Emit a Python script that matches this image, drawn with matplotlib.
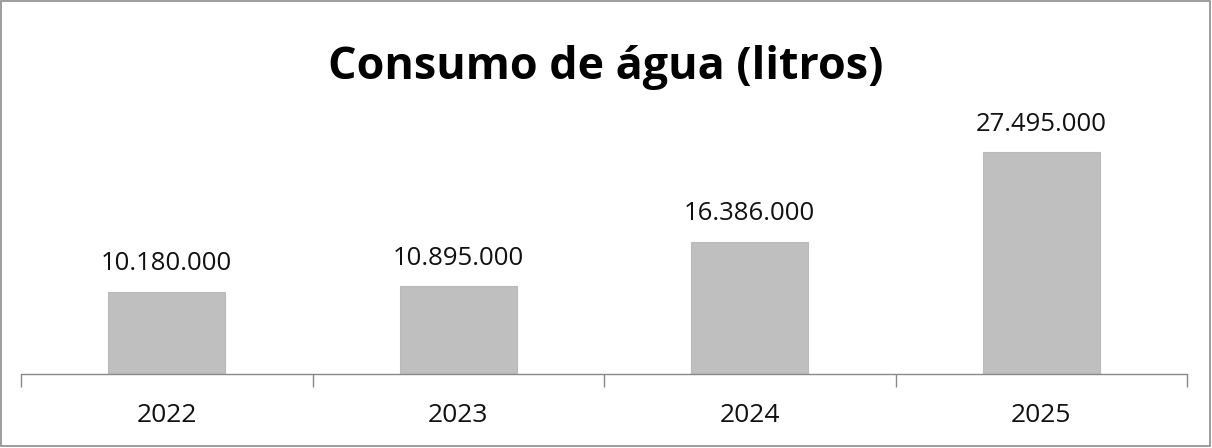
import matplotlib.pyplot as plt

# dados
anos = ['2022', '2023', '2024', '2025']
consumo = [10180000, 10895000, 16386000, 27495000]
rotulos = ['10.180.000', '10.895.000', '16.386.000', '27.495.000']

plt.rcParams['font.family'] = ['Open Sans', 'DejaVu Sans']

fig = plt.figure(figsize=(12.12, 4.48), dpi=100)
ax = fig.add_axes([21 / 1212, (448 - 373.5) / 448, 1166 / 1212, 241.5 / 448])

x = range(len(anos))
ax.bar(x, consumo, width=0.4, color='#bfbfbf', edgecolor='#bababa', linewidth=0.8)

for xi, v, lab in zip(x, consumo, rotulos):
    ax.text(xi, v + 1900000, lab, ha='center', va='bottom', fontsize=18.5, color='#111111')

ax.set_xlim(-0.5, len(anos) - 0.5)
ax.set_ylim(0, 30000000)

for s in ['top', 'right', 'left']:
    ax.spines[s].set_visible(False)
ax.spines['bottom'].set_color('#888888')
ax.spines['bottom'].set_linewidth(1.0)

ax.set_yticks([])
ax.set_xticks([i - 0.5 for i in range(len(anos) + 1)])
ax.set_xticklabels([])
ax.set_xticks(list(x), minor=True)
ax.set_xticklabels(anos, minor=True, fontsize=19, color='#111111')
ax.tick_params(axis='x', which='major', length=9, color='#888888', width=1.0)
ax.tick_params(axis='x', which='minor', length=0, pad=21)

fig.text(0.5, 1 - 67 / 448, 'Consumo de água (litros)', ha='center', va='center',
         fontsize=32.3, fontweight='bold', color='black')

# borda da figura
fig.patches.append(plt.Rectangle((0.001, 0.004), 0.997, 0.994, transform=fig.transFigure,
                                 fill=False, edgecolor='#8c8c8c', linewidth=1.2))

fig.savefig('out.png', dpi=100)
